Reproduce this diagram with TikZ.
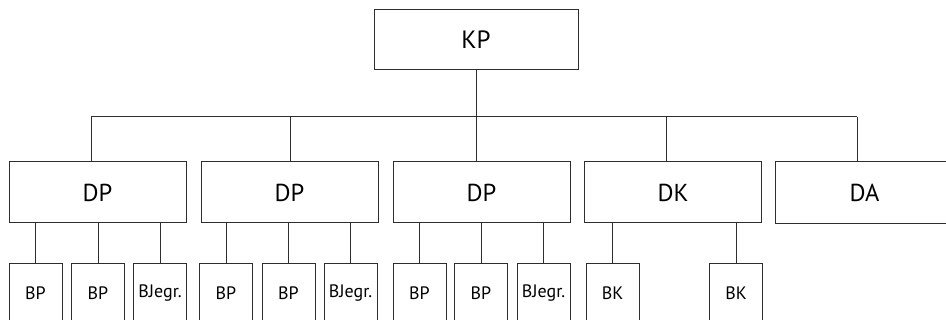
\documentclass[tikz,border=0pt]{standalone}
\usepackage{fontspec}
\setmainfont{PT Sans}
\begin{document}
\begin{tikzpicture}[x=1pt,y=-1pt,
  box/.style={draw=linegray,line width=1pt,rectangle,inner sep=0pt,anchor=center},
  big/.style={box,minimum width=177pt,minimum height=61pt,font=\fontsize{24.5}{28}\selectfont},
  top/.style={box,minimum width=204pt,minimum height=60pt,font=\fontsize{25}{28}\selectfont},
  kid/.style={box,minimum width=53pt,minimum height=58pt,font=\fontsize{18}{20}\selectfont},
  conn/.style={draw=linegray,line width=1pt}]
\definecolor{linegray}{HTML}{2E2E2E}
\useasboundingbox (0,0) rectangle (946,320);
\node[top] (kp) at (476,40) {KP};
\node[big] (dp1) at (97.5,192.5) {DP};
\node[big] (dp2) at (289.5,192.5) {DP};
\node[big] (dp3) at (481.5,192.5) {DP};
\node[big] (dk) at (673,192.5) {DK};
\node[big,draw=none,minimum width=170pt] (da) at (861,192.5) {\hspace*{7pt}DA};
\draw[conn] (da.north east) -- (da.north west) -- (da.south west) -- (da.south east);
\foreach \n/\x/\t in {a1/35.5/BP,a2/98/BP,a3/160/BJegr.,b1/226/BP,b2/288.5/BP,b3/350.5/BJegr.,c1/419.5/BP,c2/481/BP,c3/543.5/BJegr.,d1/612.5/BK,d2/736/BK}
  \node[kid] (\n) at (\x,293) {\t};
\coordinate (bl) at (91,117);
\coordinate (br) at (857,117);
\coordinate (bk) at (476,117);
\draw[conn] (bl) -- (br);
\draw[conn] (kp.south) -- (bk);
\draw[conn] (bl) -- (bl |- dp1.north);
\draw[conn] (290,117) coordinate (bp2) -- (bp2 |- dp2.north);
\draw[conn] (bk) -- (bk |- dp3.north);
\draw[conn] (666,117) coordinate (bp4) -- (bp4 |- dk.north);
\draw[conn] (br) -- (br |- da.north);
\foreach \p/\k in {dp1/a1,dp1/a2,dp1/a3,dp2/b1,dp2/b2,dp2/b3,dp3/c1,dp3/c2,dp3/c3,dk/d1,dk/d2}
  \draw[conn] (\k.north) -- (\k.north |- \p.south);
\end{tikzpicture}
\end{document}
